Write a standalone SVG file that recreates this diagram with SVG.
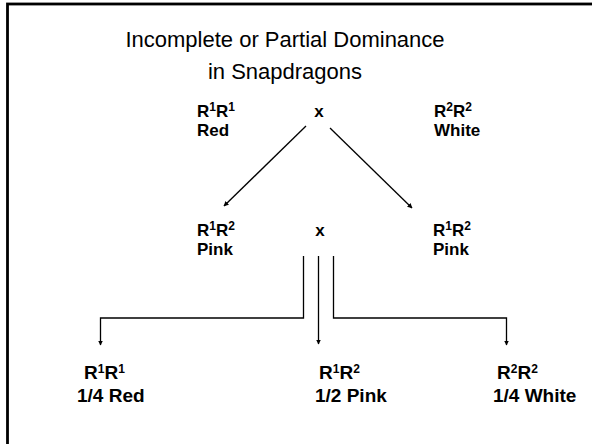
<svg xmlns="http://www.w3.org/2000/svg" width="592" height="444" viewBox="0 0 592 444">
<defs>
<style>
.t{font-family:"Liberation Sans",Arial,sans-serif;fill:#000}
.title{font-size:22px}
.b{font-size:17px;font-weight:bold}
.bb{font-size:19px;font-weight:bold}
.s{font-size:12px}
.c{fill:none;stroke:#000;stroke-width:1.3}
</style>
<marker id="ah" viewBox="0 0 10 10" refX="9" refY="5" markerWidth="5" markerHeight="5" orient="auto" markerUnits="userSpaceOnUse">
<path d="M0,0 L10,5 L0,10 z" fill="#000"/>
</marker>
</defs>
<rect x="0" y="0" width="592" height="444" fill="#fff"/>
<rect x="7.5" y="4" width="620" height="480" fill="none" stroke="#000" stroke-width="2.8"/>
<g id="title">
<text class="t title" text-anchor="middle"><tspan x="285" y="47">Incomplete or Partial Dominance</tspan><tspan x="285" y="79">in Snapdragons</tspan></text>
</g>
<g id="p1">
<text class="t b"><tspan x="197" y="117">R</tspan><tspan class="s" dy="-6">1</tspan><tspan dy="6">R</tspan><tspan class="s" dy="-6">1</tspan><tspan x="197" y="136">Red</tspan></text>
</g>
<g id="cross1"><text class="t b" x="319" y="117" text-anchor="middle">x</text></g>
<g id="p2">
<text class="t b"><tspan x="434" y="117">R</tspan><tspan class="s" dy="-6">2</tspan><tspan dy="6">R</tspan><tspan class="s" dy="-6">2</tspan><tspan x="434" y="136">White</tspan></text>
</g>
<g id="f1a">
<text class="t b"><tspan x="197" y="236">R</tspan><tspan class="s" dy="-6">1</tspan><tspan dy="6">R</tspan><tspan class="s" dy="-6">2</tspan><tspan x="197" y="255">Pink</tspan></text>
</g>
<g id="cross2"><text class="t b" x="320" y="236" text-anchor="middle">x</text></g>
<g id="f1b">
<text class="t b"><tspan x="433" y="236">R</tspan><tspan class="s" dy="-6">1</tspan><tspan dy="6">R</tspan><tspan class="s" dy="-6">2</tspan><tspan x="433" y="255">Pink</tspan></text>
</g>
<g id="g1">
<text class="t bb"><tspan x="84" y="379">R</tspan><tspan class="s" dy="-6">1</tspan><tspan dy="6">R</tspan><tspan class="s" dy="-6">1</tspan><tspan x="77" y="402">1/4 Red</tspan></text>
</g>
<g id="g2">
<text class="t bb"><tspan x="319" y="379">R</tspan><tspan class="s" dy="-6">1</tspan><tspan dy="6">R</tspan><tspan class="s" dy="-6">2</tspan><tspan x="315" y="402">1/2 Pink</tspan></text>
</g>
<g id="g3">
<text class="t bb"><tspan x="497" y="379">R</tspan><tspan class="s" dy="-6">2</tspan><tspan dy="6">R</tspan><tspan class="s" dy="-6">2</tspan><tspan x="493" y="402">1/4 White</tspan></text>
</g>
<g id="connectors">
<line class="c" x1="306" y1="126" x2="224" y2="206" marker-end="url(#ah)"/>
<line class="c" x1="330" y1="128" x2="412" y2="208" marker-end="url(#ah)"/>
<polyline class="c" points="303.5,256 303.5,318 100.5,318 100.5,345" marker-end="url(#ah)"/>
<line class="c" x1="318.5" y1="256" x2="318.5" y2="344" marker-end="url(#ah)"/>
<polyline class="c" points="333.5,256 333.5,318 506.5,318 506.5,345" marker-end="url(#ah)"/>
</g>
</svg>
